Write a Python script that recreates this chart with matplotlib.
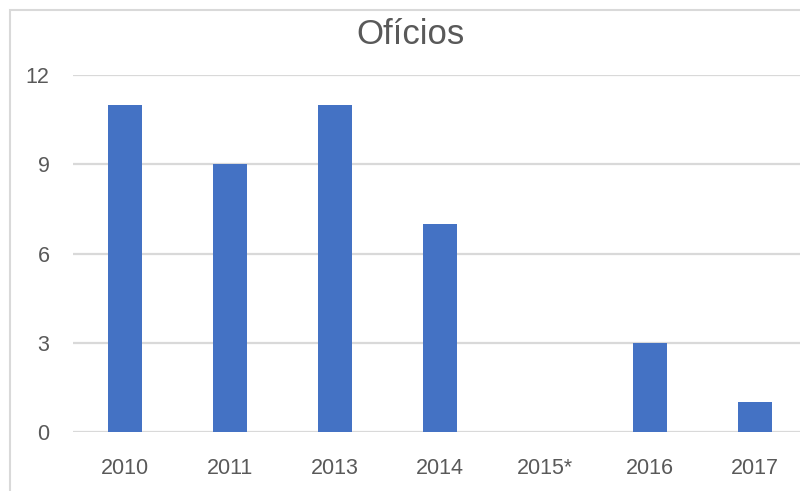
import matplotlib
matplotlib.use("Agg")
import matplotlib.pyplot as plt
from matplotlib.patches import Rectangle

categories = ["2010", "2011", "2013", "2014", "2015*", "2016", "2017"]
values = [11, 9, 11, 7, 0, 3, 1]
y_ticks = [0, 3, 6, 9, 12]
title = "Ofícios"

BAR_COLOR = "#4472C4"
TEXT_COLOR = "#595959"
GRID_COLOR = "#D9D9D9"

plt.rcParams["font.family"] = ["Liberation Sans", "DejaVu Sans"]

W, H = 800, 491
fig = plt.figure(figsize=(W / 100, H / 100), dpi=100)

# plot area in pixel terms, converted to figure fractions
left_px, right_px = 72.5, 807.5
top_px, bottom_px = 75, 432
ax = fig.add_axes([left_px / W, (H - bottom_px) / H,
                   (right_px - left_px) / W, (bottom_px - top_px) / H])

x = range(len(categories))
ax.bar(x, values, width=0.315, color=BAR_COLOR, zorder=3)

ax.set_xlim(-0.5, len(categories) - 0.5)
ax.set_ylim(0, 12)
ax.set_yticks(y_ticks)
ax.set_xticks(list(x))
ax.set_xticklabels(categories)

ax.yaxis.grid(True, color=GRID_COLOR, linewidth=1.6, zorder=0)
ax.set_axisbelow(True)
# slightly heavier baseline
ax.axhline(0, color=GRID_COLOR, linewidth=2.0, zorder=1)
for s in ax.spines.values():
    s.set_visible(False)
ax.tick_params(axis="both", length=0, labelcolor=TEXT_COLOR, labelsize=15.5)
ax.tick_params(axis="x", pad=18.5)
ax.tick_params(axis="y", pad=16.5)

# title
fig.text(410.5 / W, 1 - 35 / H, title, ha="center", va="center",
         fontsize=25, color=TEXT_COLOR)

# chart-area border (runs past the right and bottom edges)
fig.patches.append(Rectangle((10 / W, -0.1), 1.2, 1 - 10 / H + 0.1,
                             transform=fig.transFigure, fill=False,
                             edgecolor=GRID_COLOR, linewidth=1.5))

fig.savefig("out.png", dpi=100, facecolor="white")
